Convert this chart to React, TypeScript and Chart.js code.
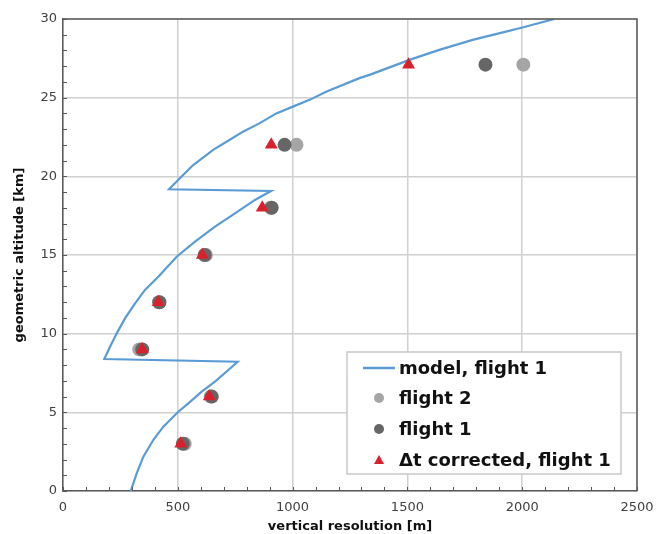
import React, { useEffect, useRef } from 'react';
import { Chart, registerables } from 'chart.js';

Chart.register(...registerables);

// Model curve: altitude [km] and vertical resolution [m]
const modelAltitude = [
  0, 1.12, 2.18, 3.24, 4.09, 5.04, 5.57, 6.31, 6.95, 7.69, 8.22,
  8.39, 9.17, 10.02, 10.97, 11.93, 12.78, 13.62, 14.89, 15.85, 16.8, 17.65, 18.5, 19.07,
  19.18, 19.88, 20.72, 21.68, 22.2, 22.84, 23.38, 24.0, 24.43, 24.86, 25.38, 26.24, 26.45, 27.4, 28.04, 28.67, 29.2, 29.46, 30.0,
];
const modelResolution = [
  295, 321, 350, 393, 437, 502, 546, 604, 662, 720, 761,
  180, 205, 234, 270, 314, 357, 415, 495, 575, 662, 749, 836, 906,
  462, 509, 567, 654, 712, 784, 857, 929, 1001, 1074, 1146, 1291, 1335, 1509, 1639, 1784, 1929, 2001, 2140,
];

// Measured points
const pointAltitudes = [3, 6, 9, 12, 15, 18, 22, 27.1];
const flight2Resolution = [530, 643, 332, 418, 622, 905, 1017, 2005];
const flight1Resolution = [522, 648, 345, 420, 617, 909, 965, 1840];
const correctedResolution = [513, 637, 345, 415, 607, 868, 907, 1505];

const xMin = 0;
const xMax = 2500;
const xStep = 500;
const xMinorStep = 100;
const yMin = 0;
const yMax = 30;
const yStep = 5;
const yMinorStep = 1;

const legendLabels = ['model, flight 1', 'flight 2', 'flight 1', 'Δt corrected, flight 1'];

const BLUE = '#5b9bd5';
const LIGHT = '#a5a5a5';
const DARK = '#666666';
const RED = '#d9212e';
const AXIS = '#595959';
const GRID = '#d0d0d0';

const toXY = (xs: number[], ys: number[]) => xs.map((x, i) => ({ x, y: ys[i] }));

const decorPlugin = {
  id: 'decor',
  afterDraw(chart: any) {
    const { ctx, chartArea: a, scales } = chart;
    const xs = scales.x;
    const ys = scales.y;
    ctx.save();
    // top and right border
    ctx.strokeStyle = AXIS;
    ctx.lineWidth = 1.5;
    ctx.beginPath();
    ctx.moveTo(a.left, a.top);
    ctx.lineTo(a.right, a.top);
    ctx.lineTo(a.right, a.bottom);
    ctx.stroke();
    // minor ticks (inside)
    ctx.lineWidth = 1;
    ctx.beginPath();
    for (let v = xMin; v <= xMax; v += xMinorStep) {
      const px = Math.round(xs.getPixelForValue(v)) + 0.5;
      ctx.moveTo(px, a.bottom);
      ctx.lineTo(px, a.bottom - 4);
    }
    for (let v = yMin; v <= yMax; v += yMinorStep) {
      const py = Math.round(ys.getPixelForValue(v)) + 0.5;
      ctx.moveTo(a.left, py);
      ctx.lineTo(a.left + 4, py);
    }
    ctx.stroke();

    // legend box
    const bw = 274;
    const bh = 122;
    const bx = a.right - 16 - bw;
    const by = a.bottom - 17 - bh;
    ctx.fillStyle = '#ffffff';
    ctx.fillRect(bx, by, bw, bh);
    ctx.strokeStyle = '#c8c8c8';
    ctx.lineWidth = 1.5;
    ctx.strokeRect(bx, by, bw, bh);
    const rowY = [by + 16, by + 46, by + 77, by + 108];
    const mx = bx + 32;
    ctx.font = 'bold 18px "DejaVu Sans"';
    ctx.textBaseline = 'middle';
    ctx.textAlign = 'left';
    legendLabels.forEach((label, i) => {
      const y = rowY[i];
      if (i === 0) {
        ctx.strokeStyle = BLUE;
        ctx.lineWidth = 2.5;
        ctx.beginPath();
        ctx.moveTo(bx + 16, y);
        ctx.lineTo(bx + 48, y);
        ctx.stroke();
      } else if (i === 1 || i === 2) {
        ctx.fillStyle = i === 1 ? LIGHT : DARK;
        ctx.beginPath();
        ctx.arc(mx, y, 5, 0, Math.PI * 2);
        ctx.fill();
      } else {
        ctx.fillStyle = RED;
        ctx.beginPath();
        ctx.moveTo(mx, y - 5);
        ctx.lineTo(mx + 5, y + 4);
        ctx.lineTo(mx - 5, y + 4);
        ctx.closePath();
        ctx.fill();
      }
      ctx.fillStyle = '#111111';
      ctx.fillText(label, bx + 52, y + 1);
    });
    ctx.restore();
  },
};

export default function App() {
  const canvasRef = useRef<HTMLCanvasElement | null>(null);

  useEffect(() => {
    if (!canvasRef.current) return;
    Chart.defaults.font.family = '"DejaVu Sans", Verdana, sans-serif';
    const chart = new Chart(canvasRef.current, {
      type: 'scatter',
      data: {
        datasets: [
          {
            label: legendLabels[0],
            data: toXY(modelResolution, modelAltitude),
            showLine: true,
            borderColor: BLUE,
            borderWidth: 2.2,
            pointRadius: 0,
            tension: 0,
            order: 4,
          } as any,
          {
            label: legendLabels[1],
            data: toXY(flight2Resolution, pointAltitudes),
            backgroundColor: LIGHT,
            borderWidth: 0,
            pointRadius: 7,
            pointStyle: 'circle',
            order: 3,
          },
          {
            label: legendLabels[2],
            data: toXY(flight1Resolution, pointAltitudes),
            backgroundColor: DARK,
            borderWidth: 0,
            pointRadius: 7,
            pointStyle: 'circle',
            order: 2,
          },
          {
            label: legendLabels[3],
            data: toXY(correctedResolution, pointAltitudes),
            backgroundColor: RED,
            borderWidth: 0,
            pointRadius: 7.5,
            pointStyle: 'triangle',
            order: 1,
          },
        ],
      },
      options: {
        animation: false,
        responsive: false,
        layout: { padding: { top: 19, right: 22, left: 0, bottom: 0 } },
        plugins: {
          legend: { display: false },
          tooltip: { enabled: false },
        },
        scales: {
          x: {
            type: 'linear',
            min: xMin,
            max: xMax,
            ticks: {
              stepSize: xStep,
              color: '#404040',
              font: { size: 13 },
              padding: 9,
              maxRotation: 0,
              callback: (v: any) => String(v),
            },
            grid: { color: GRID, lineWidth: 1.5, drawTicks: false },
            border: { color: AXIS, width: 1.5 },
            title: {
              display: true,
              text: 'vertical resolution [m]',
              color: '#111111',
              font: { size: 13, weight: 'bold' },
              padding: { top: 2, bottom: 0 },
            },
            afterFit(scale: any) {
              scale.height = 43;
              scale.paddingLeft = 0;
              scale.paddingRight = 0;
            },
          },
          y: {
            type: 'linear',
            min: yMin,
            max: yMax,
            ticks: {
              stepSize: yStep,
              color: '#404040',
              font: { size: 13 },
              padding: 6,
              callback: (v: any) => String(v),
            },
            grid: { color: GRID, lineWidth: 1.5, drawTicks: false },
            border: { color: AXIS, width: 1.5 },
            title: {
              display: true,
              text: 'geometric altitude [km]',
              color: '#111111',
              font: { size: 13, weight: 'bold' },
              padding: { top: 12, bottom: 0 },
            },
            afterFit(scale: any) {
              scale.width = 63;
              scale.paddingTop = 0;
              scale.paddingBottom = 0;
            },
          },
        },
      },
      plugins: [decorPlugin],
    });
    return () => chart.destroy();
  }, []);

  return (
    <div style={{ position: 'absolute', left: 0, top: 0, width: 659, height: 534, background: '#fff' }}>
      <canvas ref={canvasRef} width={659} height={534} style={{ display: 'block' }} />
    </div>
  );
}
